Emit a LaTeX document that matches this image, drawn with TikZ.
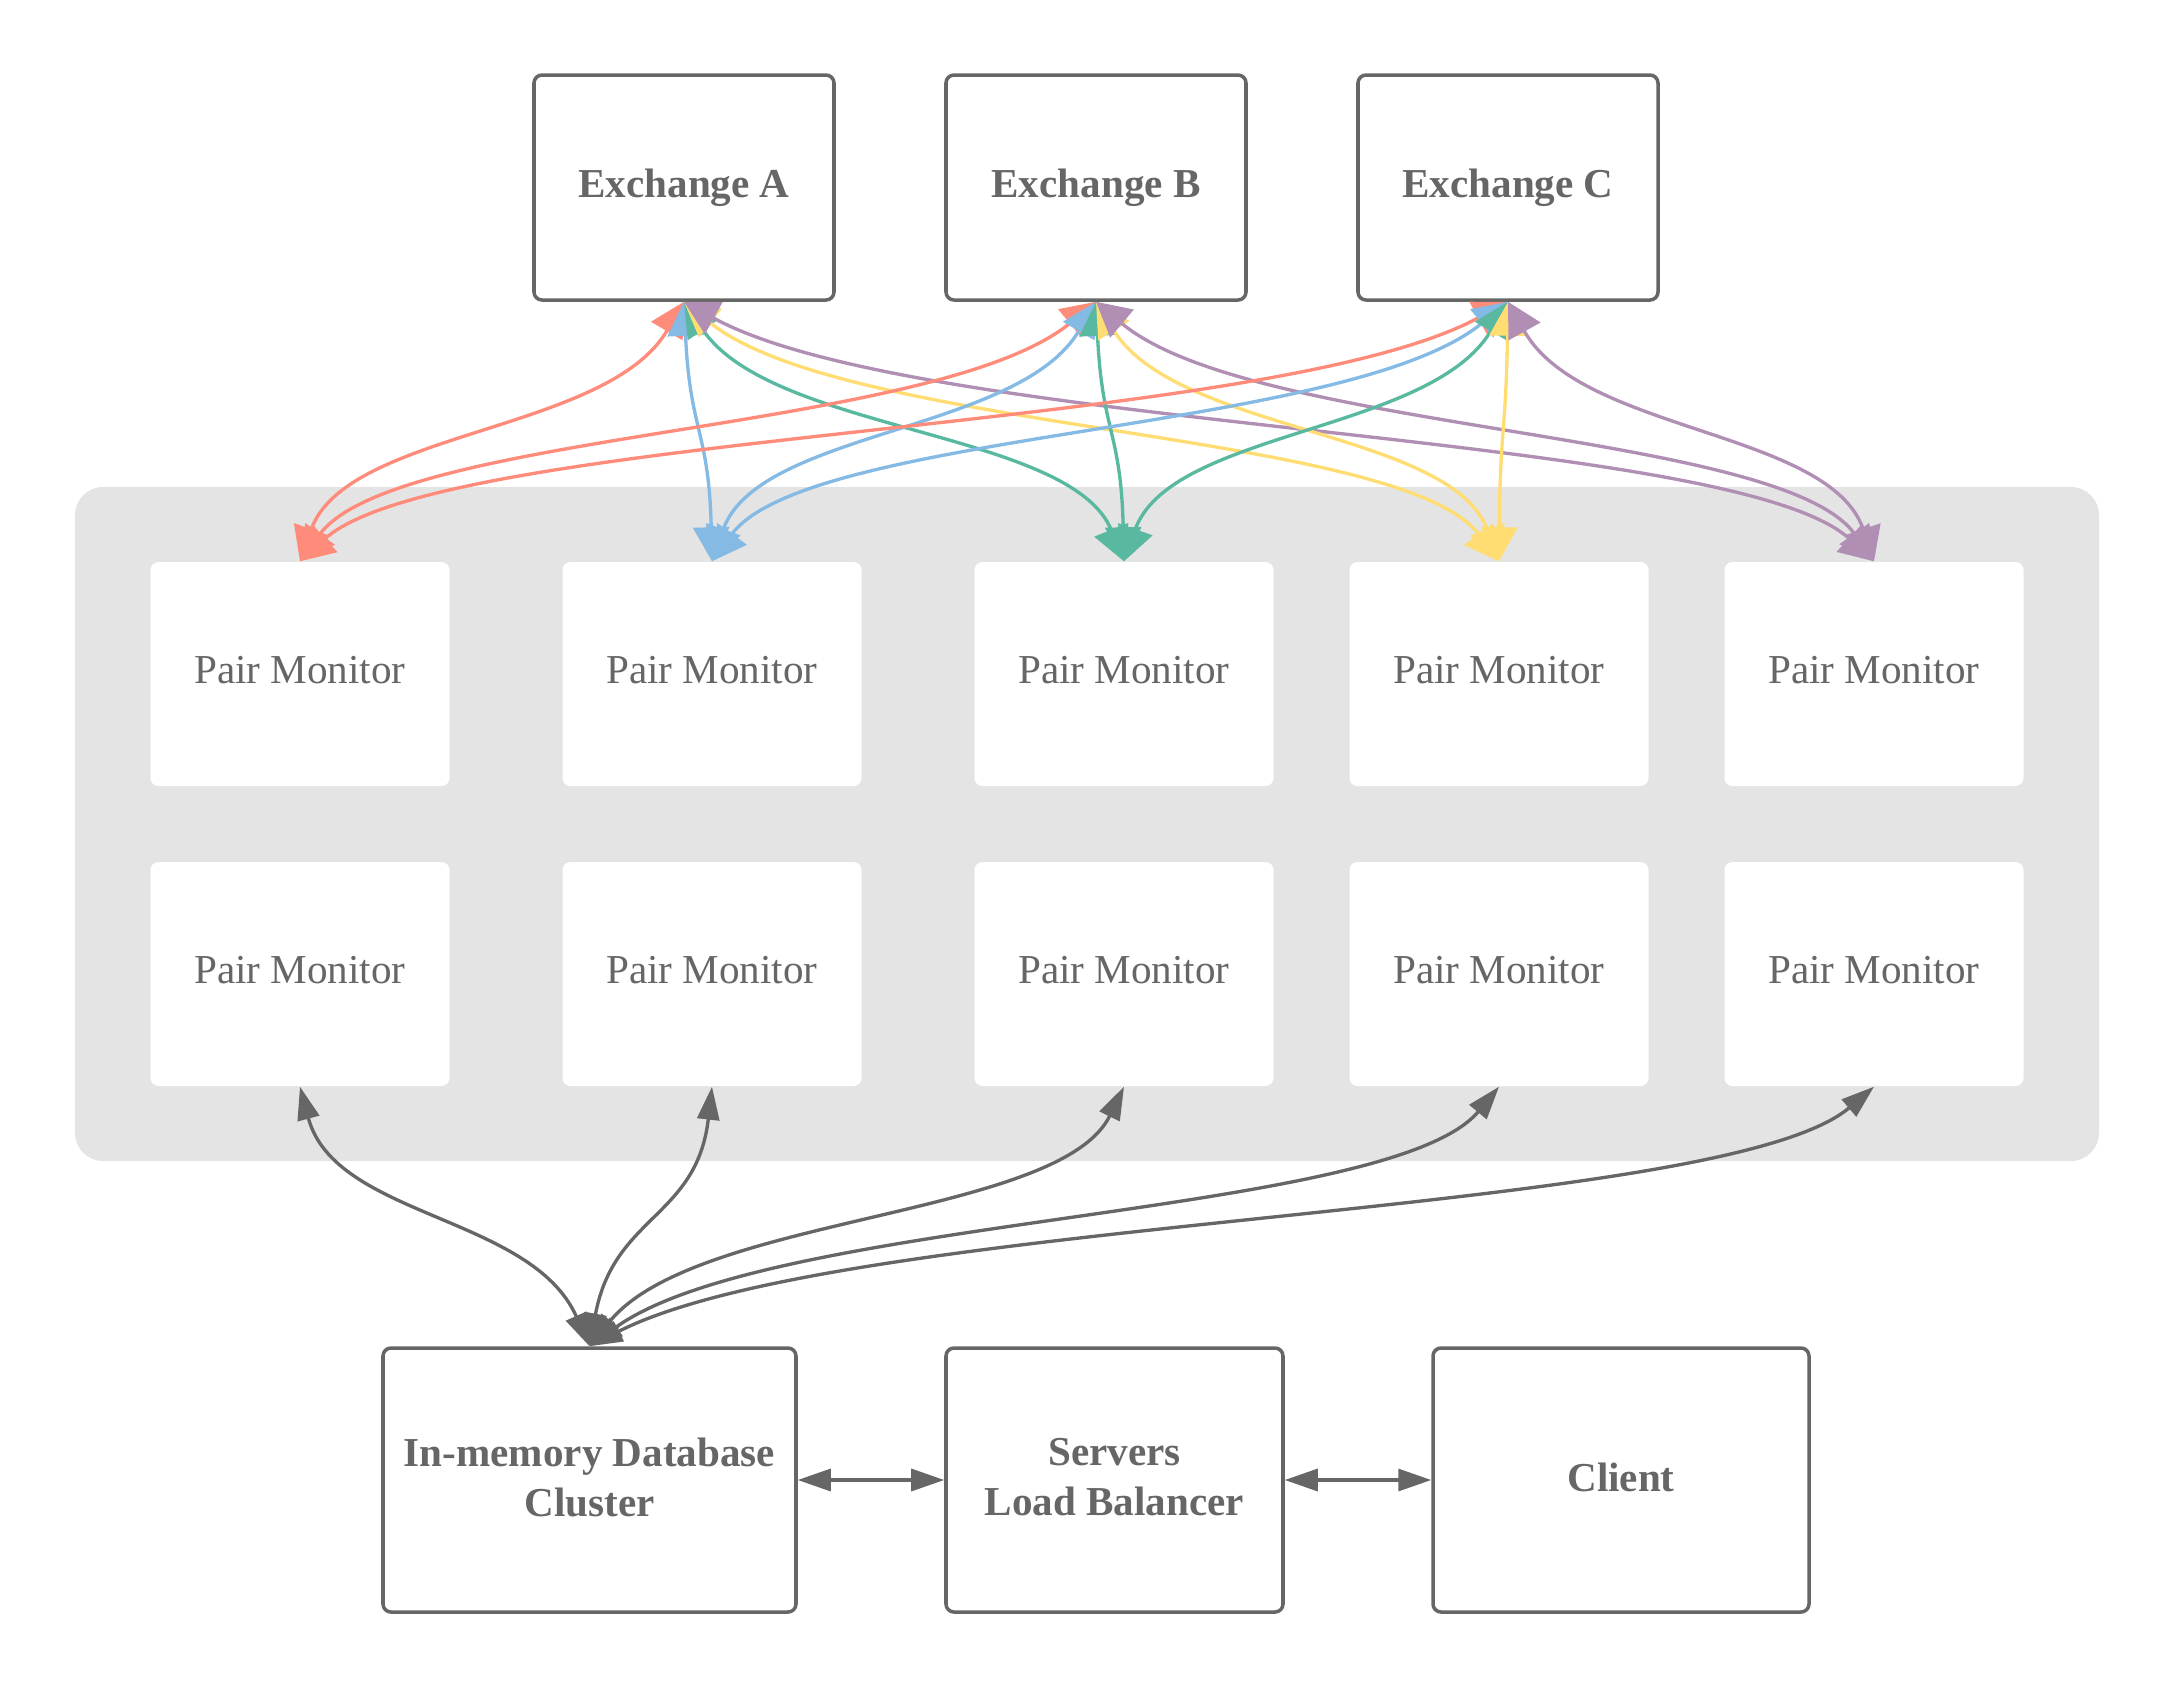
\documentclass[tikz,border=0pt]{standalone}
\usepackage{fontspec}
\setmainfont{Liberation Serif}
\usepackage{xcolor}
\usetikzlibrary{arrows.meta, positioning, calc}

\definecolor{boxgray}{HTML}{666666}
\definecolor{groupgray}{HTML}{E4E4E4}
\definecolor{pmred}{HTML}{FF8B7B}
\definecolor{pmblue}{HTML}{84BAE3}
\definecolor{pmgreen}{HTML}{59B8A0}
\definecolor{pmyellow}{HTML}{FFDD73}
\definecolor{pmpurple}{HTML}{B18FB5}

\begin{document}
\begin{tikzpicture}[
        >={Triangle[length=0.34cm, width=0.36cm]},
        exchange/.style={draw=boxgray, line width=1pt, rounded corners=0.08cm, minimum width=3.0cm, minimum height=2.25cm, text=boxgray, font=\bfseries\fontsize{11.7}{14.2}\selectfont},
        monitor/.style={fill=white, rounded corners=0.08cm, minimum width=2.99cm, minimum height=2.24cm, text depth=0.08cm, text=boxgray, font=\fontsize{11.7}{14.2}\selectfont},
        service/.style={draw=boxgray, line width=1pt, rounded corners=0.08cm, minimum height=2.64cm, text depth=0.06cm, text=boxgray, align=center, font=\bfseries\fontsize{11.7}{14.2}\selectfont},
        feed/.style={<->, line width=0.95pt},
        store/.style={line width=0.95pt, draw=boxgray, arrows={Triangle[length=0.33cm, width=0.22cm]-Triangle[length=0.33cm, width=0.22cm]}}
    ]

        \useasboundingbox (0,0) rectangle (21.75,-16.88);

        % exchanges
        \node[exchange] (exA) at (6.84, -1.875) {Exchange A};
        \node[exchange] (exB) at (10.96, -1.875) {Exchange B};
        \node[exchange] (exC) at (15.08, -1.875) {Exchange C};

        % group of pair monitors
        \fill[groupgray, rounded corners=0.28cm] (0.75, -4.87) rectangle (20.99, -11.61);

        \node[monitor] (pm11) at (3.00, -6.74) {Pair Monitor};
        \node[monitor] (pm12) at (7.12, -6.74) {Pair Monitor};
        \node[monitor] (pm13) at (11.24, -6.74) {Pair Monitor};
        \node[monitor] (pm14) at (14.99, -6.74) {Pair Monitor};
        \node[monitor] (pm15) at (18.74, -6.74) {Pair Monitor};

        \node[monitor] (pm21) at (3.00, -9.74) {Pair Monitor};
        \node[monitor] (pm22) at (7.12, -9.74) {Pair Monitor};
        \node[monitor] (pm23) at (11.24, -9.74) {Pair Monitor};
        \node[monitor] (pm24) at (14.99, -9.74) {Pair Monitor};
        \node[monitor] (pm25) at (18.74, -9.74) {Pair Monitor};

        % backend
        \node[service, minimum width=4.13cm] (db) at (5.895, -14.80) {In-memory Database\\Cluster};
        \node[service, minimum width=3.37cm] (lb) at (11.145, -14.80) {Servers\\Load Balancer};
        \node[service, minimum width=3.76cm] (client) at (16.21, -14.80) {Client};

        % market data feeds
        \draw[feed, pmred] (exA.south) .. controls +(-0.77,-1.31) and +(0.46,1.31) .. (pm11.north);
        \draw[feed, pmblue] (exA.south) .. controls +(0.06,-1.31) and +(-0.03,1.31) .. (pm12.north);
        \draw[feed, pmgreen] (exA.south) .. controls +(0.88,-1.31) and +(-0.53,1.31) .. (pm13.north);
        \draw[feed, pmyellow] (exA.south) .. controls +(1.63,-1.31) and +(-0.98,1.31) .. (pm14.north);
        \draw[feed, pmpurple] (exA.south) .. controls +(2.38,-1.31) and +(-1.43,1.31) .. (pm15.north);

        \draw[feed, pmred] (exB.south) .. controls +(-1.59,-1.31) and +(0.96,1.31) .. (pm11.north);
        \draw[feed, pmblue] (exB.south) .. controls +(-0.77,-1.31) and +(0.46,1.31) .. (pm12.north);
        \draw[feed, pmgreen] (exB.south) .. controls +(0.06,-1.31) and +(-0.03,1.31) .. (pm13.north);
        \draw[feed, pmyellow] (exB.south) .. controls +(0.81,-1.31) and +(-0.48,1.31) .. (pm14.north);
        \draw[feed, pmpurple] (exB.south) .. controls +(1.56,-1.31) and +(-0.93,1.31) .. (pm15.north);

        \draw[feed, pmred] (exC.south) .. controls +(-2.42,-1.31) and +(1.45,1.31) .. (pm11.north);
        \draw[feed, pmblue] (exC.south) .. controls +(-1.59,-1.31) and +(0.96,1.31) .. (pm12.north);
        \draw[feed, pmgreen] (exC.south) .. controls +(-0.77,-1.31) and +(0.46,1.31) .. (pm13.north);
        \draw[feed, pmyellow] (exC.south) .. controls +(-0.02,-1.31) and +(0.01,1.31) .. (pm14.north);
        \draw[feed, pmpurple] (exC.south) .. controls +(0.73,-1.31) and +(-0.44,1.31) .. (pm15.north);

        % storage links
        \draw[store] (db.north) .. controls +(-0.58,1.31) and +(0.35,-1.31) .. (pm21.south);
        \draw[store] (db.north) .. controls +(0.245,1.31) and +(-0.15,-1.31) .. (pm22.south);
        \draw[store] (db.north) .. controls +(1.07,1.31) and +(-0.64,-1.31) .. (pm23.south);
        \draw[store] (db.north) .. controls +(1.82,1.31) and +(-1.09,-1.31) .. (pm24.south);
        \draw[store] (db.north) .. controls +(2.57,1.31) and +(-1.54,-1.31) .. (pm25.south);

        \draw[store] (db.east) -- (lb.west);
        \draw[store] (lb.east) -- (client.west);

    \end{tikzpicture}
\end{document}
